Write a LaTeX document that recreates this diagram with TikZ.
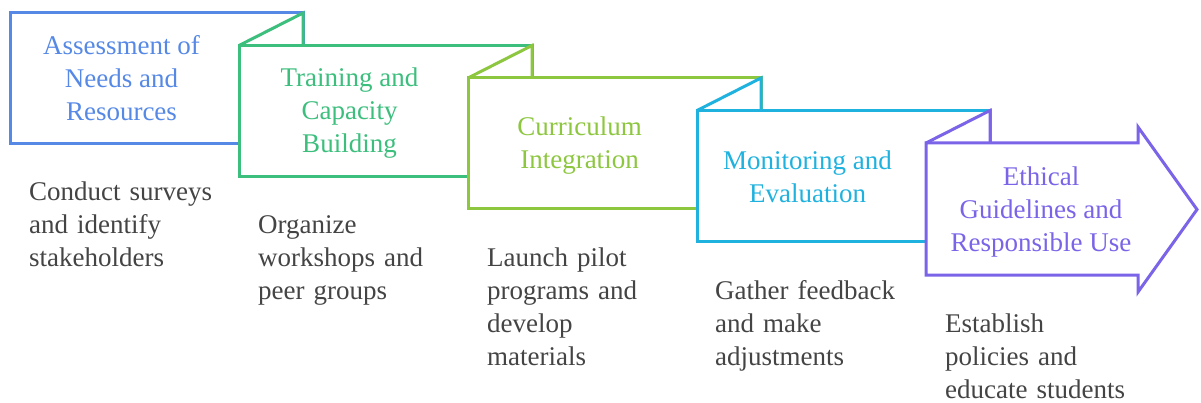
\documentclass[tikz,border=0pt]{standalone}
\usepackage{fontspec}
\setmainfont{Liberation Serif}
\definecolor{stepblue}{RGB}{86,137,230}
\definecolor{stepgreen}{RGB}{60,190,125}
\definecolor{steplime}{RGB}{141,198,63}
\definecolor{stepcyan}{RGB}{32,178,222}
\definecolor{steppurple}{RGB}{123,100,232}
\definecolor{notegray}{RGB}{68,68,68}
\tikzset{
    panel/.style={draw=#1, line width=3pt, fill=white, line join=miter},
    flap/.style={draw=#1, line width=3pt, line join=miter},
    title/.style={text=#1, align=center, inner sep=0, font=\fontsize{27}{33}\selectfont},
    note/.style={text=notegray, text width=220pt, align=left, anchor=base west, inner sep=0, font=\fontsize{27}{33}\selectfont}
}

\begin{document}
\begin{tikzpicture}[x=1pt, y=-1pt]
    \useasboundingbox (0,0) rectangle (1201,403);
    \draw[panel=stepblue] (10,13) rectangle (303,144);
    \draw[panel=stepgreen] (239,45.5) rectangle (532,176.5);
    \draw[flap=stepgreen] (239,45.5) -- (303,13) -- (303,45.5);
    \draw[panel=steplime] (468,78) rectangle (761,209);
    \draw[flap=steplime] (468,78) -- (532,45.5) -- (532,78);
    \draw[panel=stepcyan] (697,110.5) rectangle (990,241.5);
    \draw[flap=stepcyan] (697,110.5) -- (761,78) -- (761,110.5);
    \draw[panel=steppurple] (926,143) -- (1138,143) -- (1138,127) -- (1197,209.5)
        -- (1138,292) -- (1138,275) -- (926,275) -- cycle;
    \draw[flap=steppurple] (926,143) -- (990,110.5) -- (990,143);

    \node[title=stepblue] (needs) at (121.5,78.5) {Assessment of\\Needs and\\Resources};
    \node[title=stepgreen] (training) at (349.5,113.5) {Training and\\Capacity\\Building};
    \node[title=steplime] (curriculum) at (579.5,146) {Curriculum\\Integration};
    \node[title=stepcyan] (monitoring) at (807.5,176.5) {Monitoring and\\Evaluation};
    \node[title=steppurple] (ethics) at (1041,212) {Ethical\\Guidelines and\\Responsible Use};

    \node[note] (needsnote) at (29,200.5) {Conduct surveys\\and identify\\stakeholders};
    \node[note] (trainingnote) at (258,233.5) {Organize\\workshops and\\peer groups};
    \node[note] (curriculumnote) at (487,266.5) {Launch pilot\\programs and\\develop\\materials};
    \node[note] (monitoringnote) at (715,299.5) {Gather feedback\\and make\\adjustments};
    \node[note] (ethicsnote) at (945,332.5) {Establish\\policies and\\educate students};
\end{tikzpicture}
\end{document}
